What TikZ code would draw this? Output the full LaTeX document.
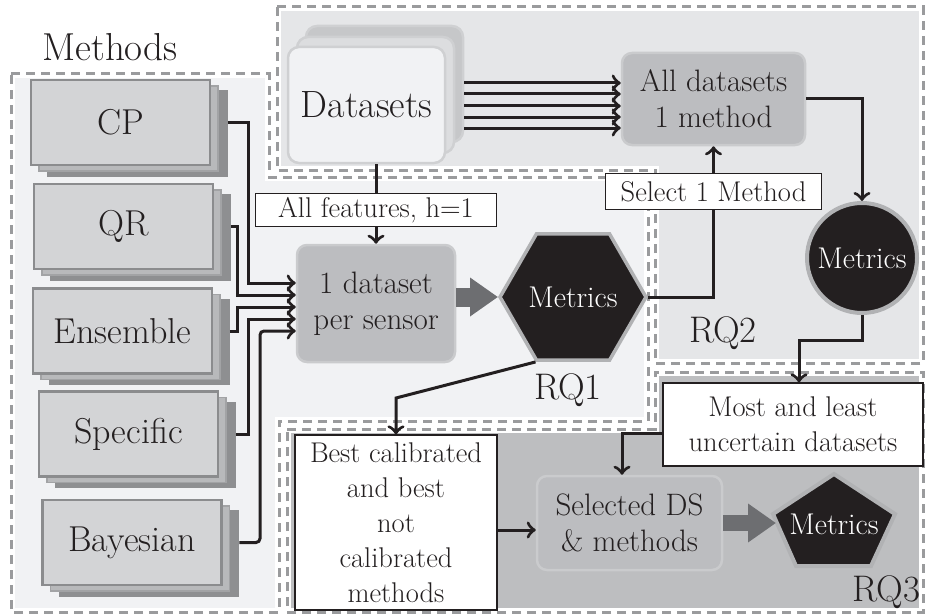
\documentclass[tikz,border=0pt]{standalone}
\usetikzlibrary{arrows.meta,shapes.geometric,calc}
\definecolor{ink}{HTML}{231F20}
\definecolor{rega}{HTML}{F1F2F4}
\definecolor{regb}{HTML}{E5E6E8}
\definecolor{regc}{HTML}{BDBEC0}
\definecolor{dashc}{HTML}{9A9B9D}
\definecolor{mfrontf}{HTML}{D3D4D6}
\definecolor{mfrontd}{HTML}{8B8C8E}
\definecolor{mmidf}{HTML}{B8B9BB}
\definecolor{mbackf}{HTML}{8E8F91}
\definecolor{dsfrontf}{HTML}{F1F2F4}
\definecolor{dsmidf}{HTML}{DCDDDF}
\definecolor{dsbackf}{HTML}{C6C7C9}
\definecolor{dsbord}{HTML}{CFD0D2}
\definecolor{boxf}{HTML}{BCBDC0}
\definecolor{boxd}{HTML}{CACBCD}
\definecolor{polyb}{HTML}{B1B2B4}
\definecolor{arrowc}{HTML}{6D6E71}
\begin{document}
\begin{tikzpicture}[x=1pt,y=-1pt,
  region/.style={line width=3pt, draw=dashc, dash pattern=on 9pt off 6pt},
  regfill/.style={fill=#1, postaction={draw=white, line width=8pt}, postaction={region}},
  conn/.style={line width=3pt, draw=ink, -{Classical TikZ Rightarrow[length=9pt,width=17pt,line width=2.6pt]}},
  bigarrow/.style={draw=arrowc, line width=#1, -{Triangle[length=28pt,width=37pt]}},
  mfront/.style={draw=mfrontd, fill=mfrontf, line width=2.5pt, minimum width=179pt, minimum height=85pt, inner sep=0pt, text=ink, font={\fontsize{36}{40}\selectfont}},
  mmid/.style={draw=mfrontd!80, fill=mmidf, line width=1.5pt, minimum width=179pt, minimum height=85pt, inner sep=0pt},
  mback/.style={draw=mbackf, fill=mbackf, line width=1.5pt, minimum width=179pt, minimum height=85pt, inner sep=0pt},
  dslayer/.style={draw=dsbord, fill=#1, line width=2.5pt, rounded corners=11pt, minimum width=157pt, minimum height=116pt, inner sep=0pt},
  procbox/.style={draw=boxd, fill=boxf, line width=2.5pt, rounded corners=10pt, inner sep=0pt, align=center, text=ink, font={\fontsize{31}{36}\selectfont}},
  metr/.style={fill=ink, draw=polyb, text=white, inner sep=0pt, font={\fontsize{30}{34}\selectfont}},
  lbl/.style={draw=ink, line width=1.2pt, fill=white, inner sep=0pt, align=center, text=ink, font={\fontsize{28.5}{35}\selectfont}},
  rq/.style={text=ink, inner sep=0pt, font={\fontsize{37}{40}\selectfont}}
]
\useasboundingbox (0,0) rectangle (925,615);
% regions
\path[regfill=rega] (11,74) -- (269,74) -- (269,177) -- (648,177) -- (648,421) -- (279,421) -- (279,612) -- (11,612) -- cycle;
\path[regfill=regb] (277,7) -- (923,7) -- (923,363) -- (655,363) -- (655,170) -- (277,170) -- cycle;
\path[regfill=regc] (287,429) -- (655,429) -- (655,372) -- (923,372) -- (923,612) -- (287,612) -- cycle;

\node[rq, font={\fontsize{39}{44}\selectfont}] (methlbl) at (110,47) {Methods};
\node[rq] (rq1) at (568,390) {RQ1};
\node[rq] (rq2) at (723,333) {RQ2};
\node[rq, anchor=west] (rq3) at (852,592) {RQ3};

% method stacks
\foreach \n/\t/\x/\y in {cp/CP/120.5/122.5, qr/QR/123.5/226.5, en/Ensemble/122.5/331, sp/Specific/128.5/434, ba/Bayesian/132/542.5}{
  \node[mback] (\n3) at (\x+17,\y+11) {};
  \node[mmid] (\n2) at (\x+8,\y+6) {};
  \node[mfront] (\n) at (\x,\y) {\t};
}

% datasets stack
\node[dslayer=dsbackf] (dsb) at (384.5,84) {};
\node[dslayer=dsmidf] (dsm) at (375.5,95) {};
\node[dslayer=dsfrontf, text=ink, font={\fontsize{38}{42}\selectfont}] (ds) at (366.5,105) {Datasets};

% process boxes
\node[procbox, minimum width=158pt, minimum height=117pt] (ds1) at (376,303.5) {1 dataset\\per sensor};
\node[procbox, minimum width=183pt, minimum height=92pt] (alld) at (713.5,99) {All datasets\\1 method};
\node[procbox, minimum width=185pt, minimum height=94pt] (sel) at (629.5,523) {Selected DS\\\& methods};

% metrics shapes
\node[metr, regular polygon, regular polygon sides=6, minimum size=131pt, line width=3.5pt] (hex) at (573,297) {Metrics};
\node[metr, circle, minimum size=110pt, line width=4pt] (circ) at (862,258) {Metrics};
\coordinate (pc) at (834,521);
\filldraw[fill=ink, draw=polyb, line width=4pt, line join=miter] ($(pc)+(0,-47)$) -- ($(pc)+(61,-7)$) -- ($(pc)+(37,45)$) -- ($(pc)+(-38,45)$) -- ($(pc)+(-61,-7)$) -- cycle;
\coordinate (pentin) at ($(pc)+(-58,2)$);
\node[text=white, inner sep=0pt, font={\fontsize{30}{34}\selectfont}] (pent) at ($(pc)+(0,3)$) {Metrics};

% labels
\node[lbl, minimum width=260pt, minimum height=83pt] (most) at (793,424.5) {Most and least\\uncertain datasets};
\node[lbl, minimum width=202pt, minimum height=175pt] (best) at (396,522.5) {Best calibrated\\and best\\not\\calibrated\\methods};

% method connectors
\draw[conn] (cp3.east |- cp.center) -| (248,283) -- (ds1.west |- 0,283);
\draw[conn] (qr3.east |- qr.center) -| (237,295) -- (ds1.west |- 0,295);
\draw[conn] (en3.east |- en.center) -| (237,307) -- (ds1.west |- 0,307);
\draw[conn] (sp3.east |- sp.center) -| (248,319) -- (ds1.west |- 0,319);
\draw[conn, rounded corners=4pt] (ba3.east |- ba.center) -| (260,331) -- (ds1.west |- 0,331);

% datasets connectors
\foreach \yy in {83,94,106,117,128}{
  \draw[conn] (dsb.east |- 0,\yy) -- (alld.west |- 0,\yy);
}
\draw[conn] (ds.south -| ds1.north) -- node[lbl, pos=0.58, minimum width=241pt, minimum height=33pt] (lfeat) {All features, h=1} (ds1.north);

% big arrows
\draw[bigarrow=19pt] (ds1.east |- hex.west) -- (hex.west);
\draw[bigarrow=16pt] (sel.east |- pentin) -- (pentin);

% other connectors
\draw[conn] (hex.east) -| node[lbl, pos=0.85, minimum width=216pt, minimum height=36pt] (lsel) {Select 1 Method} (alld.south);
\draw[conn] (alld.east) -| (circ.north);
\draw[conn] (circ.south) |- (799,340) -- (most.north -| 799,0);
\draw[conn] (most.west |- 0,433) -| (sel.north -| 622,0);
\draw[conn] (hex.corner 4) -- (best.north |- 0,398) -- (best.north);
\draw[conn] (best.east |- 0,530) -- (sel.west |- 0,530);
\end{tikzpicture}
\end{document}
